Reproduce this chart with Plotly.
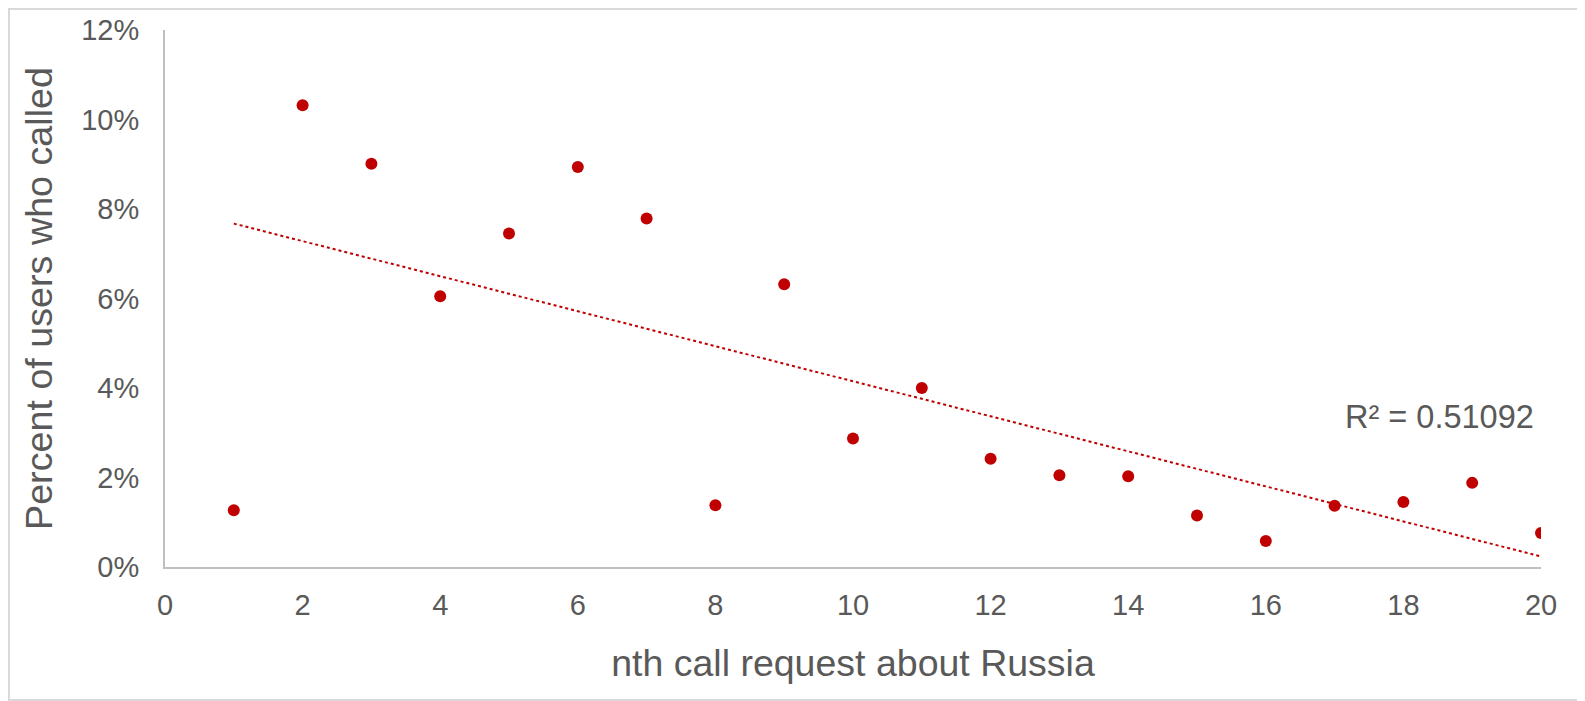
import numpy as np
import plotly.graph_objects as go

call_n = list(range(1, 21))
pct_called = [0.0127, 0.1032, 0.0901, 0.0605, 0.0745, 0.0894, 0.0779, 0.0138, 0.0632, 0.0287,
              0.0400, 0.0242, 0.0205, 0.0203, 0.0115, 0.0058, 0.0137, 0.0145, 0.0188, 0.0076]
x_ticks = list(range(0, 21, 2))
y_ticks = [0, 0.02, 0.04, 0.06, 0.08, 0.10, 0.12]
r2_label = "R² = 0.51092"

RED = "#C00000"
GREY_TXT = "#595959"
AX = "#BFBFBF"
FONT = "Liberation Sans, Arial, sans-serif"

slope, intercept = np.polyfit(call_n, pct_called, 1)
trend_x = [call_n[0], call_n[-1]]
trend_y = [slope * v + intercept for v in trend_x]

fig = go.Figure()
fig.add_trace(go.Scatter(x=trend_x, y=trend_y, mode="lines",
                         line=dict(color=RED, width=2, dash="dot"), hoverinfo="skip"))
fig.add_trace(go.Scatter(x=call_n, y=pct_called, mode="markers",
                         marker=dict(color=RED, size=12, line=dict(width=0))))

# page body has an 8px margin, so the figure is sized to fit the window
L, R, T, B = 157, 44, 22, 134
W, H = 1577, 693
pw, ph = W - L - R, H - T - B

fig.add_shape(type="rect", xref="paper", yref="paper",
              x0=(-L + 1) / pw, x1=1 + (R - 1) / pw,
              y0=(-B + 1) / ph, y1=1 + (T - 1) / ph,
              line=dict(color="#D9D9D9", width=2), layer="below")

fig.add_annotation(x=19.93, y=0.0336, xref="x", yref="y", text=r2_label, showarrow=False,
                   font=dict(family=FONT, size=32.5, color=GREY_TXT), xanchor="right")

fig.update_layout(
    width=W, height=H, showlegend=False,
    margin=dict(l=L, r=R, t=T, b=B, pad=0, autoexpand=False),
    paper_bgcolor="white", plot_bgcolor="white",
    font=dict(family=FONT, color=GREY_TXT),
    xaxis=dict(range=[0, 20], tickvals=x_ticks, showgrid=False, zeroline=False,
               showline=True, linecolor=AX, linewidth=2, ticks="", automargin=False,
               tickfont=dict(size=29, color=GREY_TXT), ticklabelstandoff=11,
               title=dict(text="nth call request about Russia",
                          font=dict(size=37.5, color=GREY_TXT), standoff=30)),
    yaxis=dict(range=[0, 0.12], tickvals=y_ticks, tickformat=".0%", showgrid=False,
               zeroline=False, showline=True, linecolor=AX, linewidth=2, ticks="",
               automargin=False,
               tickfont=dict(size=29, color=GREY_TXT), ticklabelstandoff=18,
               title=dict(text="Percent of users who called",
                          font=dict(size=37.7, color=GREY_TXT), standoff=17)),
)

fig.write_html("out.html")
